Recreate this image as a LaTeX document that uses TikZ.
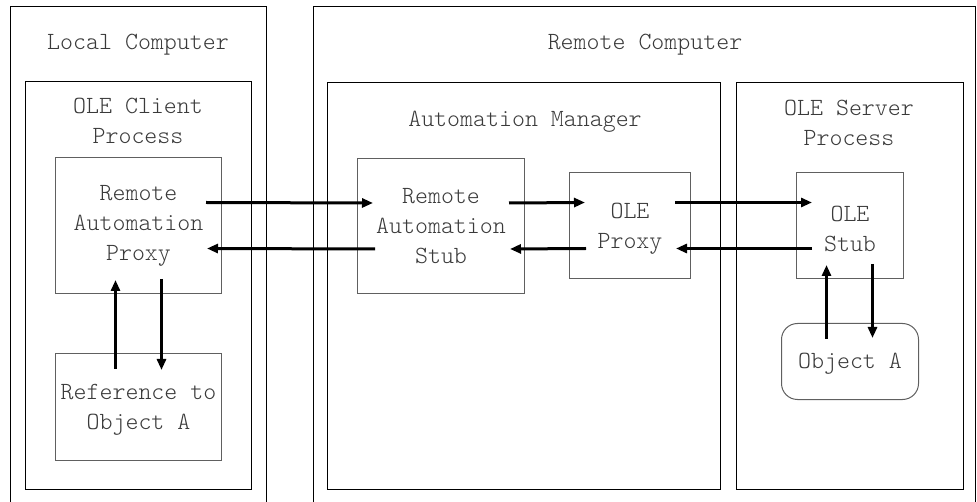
\documentclass[tikz,border=0pt]{standalone}
\usepackage{fontspec}
\setmonofont{Latin Modern Mono Light}
\usetikzlibrary{arrows.meta}
\definecolor{txt}{HTML}{3A3A3A}
\definecolor{boxline}{HTML}{606060}
\tikzset{
  container/.style={draw=black, line width=1.4pt, anchor=north west, inner sep=0pt, rectangle},
  part/.style={draw=boxline, line width=1pt, anchor=north west, inner sep=0pt, rectangle},
  caption/.style={text=txt, font=\ttfamily\fontsize{24.7}{30}\selectfont, align=center, inner sep=0pt},
  flow/.style={line width=3pt, -{Triangle[length=11pt,width=9pt]}},
}
\begin{document}
\begin{tikzpicture}[x=1pt,y=-1pt]
  \useasboundingbox (0,0) rectangle (977,502);
  \clip (0,0) rectangle (977,502);
  \fill[white] (0,0) rectangle (977,502);

  % machines
  \node[container, minimum width=256pt, minimum height=520pt] (local) at (10,6) {};
  \node[container, minimum width=662pt, minimum height=520pt] (remote) at (313,6) {};
  \node[caption] (localtitle) at (138,45) {Local Computer};
  \node[caption] (remotetitle) at (645,45) {Remote Computer};

  % processes
  \node[container, minimum width=226pt, minimum height=408pt] (client) at (25,81) {};
  \node[container, minimum width=393pt, minimum height=407pt] (manager) at (327,82) {};
  \node[container, minimum width=227pt, minimum height=407pt] (server) at (736,82) {};
  \node[caption] (clienttitle) at (138,121) {OLE Client\\Process};
  \node[caption] (managertitle) at (525,122) {Automation Manager};
  \node[caption] (servertitle) at (849,123) {OLE Server\\Process};

  % components
  \node[part, minimum width=166pt, minimum height=136pt] (rap) at (55,157) {};
  \node[caption] at (rap.center) {Remote\\Automation\\Proxy};
  \node[part, minimum width=166pt, minimum height=107pt] (ref) at (55,353) {};
  \node[caption] at ([yshift=-3pt]ref.center) {Reference to\\Object A};
  \node[part, minimum width=167pt, minimum height=135pt] (ras) at (357,158) {};
  \node[caption] at (ras.center) {Remote\\Automation\\Stub};
  \node[part, minimum width=121pt, minimum height=106pt] (olep) at (569,172) {};
  \node[caption] at ([yshift=-3pt]olep.center) {OLE\\Proxy};
  \node[part, minimum width=107pt, minimum height=106pt] (oles) at (796,172) {};
  \node[caption] at ([yshift=-3pt]oles.center) {OLE\\Stub};
  \node[part, rounded corners=16pt, minimum width=137pt, minimum height=76pt] (obj) at (781,323) {};
  \node[caption] at ([yshift=-2pt]obj.center) {Object A};

  % calls across the wire
  \draw[flow] ([xshift=-16pt,yshift=23pt]rap.east) -- ([xshift=16pt,yshift=23pt]ras.west);
  \draw[flow] ([xshift=18pt,yshift=-23pt]ras.west) -- ([xshift=-15pt,yshift=-23pt]rap.east);
  \draw[flow] ([xshift=-16pt,yshift=23pt]ras.east) -- ([xshift=16pt,yshift=23pt]olep.west);
  \draw[flow] ([xshift=17pt,yshift=-23pt]olep.west) -- ([xshift=-15pt,yshift=-23pt]ras.east);
  \draw[flow] ([xshift=-16pt,yshift=23pt]olep.east) -- ([xshift=16pt,yshift=23pt]oles.west);
  \draw[flow] ([xshift=16pt,yshift=-23pt]oles.west) -- ([xshift=-15pt,yshift=-23pt]olep.east);

  % local reference to the proxy
  \draw[flow] ([xshift=-23pt,yshift=-16pt]ref.north) -- ([xshift=-23pt,yshift=14pt]rap.south);
  \draw[flow] ([xshift=23pt,yshift=15pt]rap.south) -- ([xshift=23pt,yshift=-17pt]ref.north);

  % stub to the object
  \draw[flow] ([xshift=-23.5pt,yshift=-16pt]obj.north) -- ([xshift=-23.5pt,yshift=14pt]oles.south);
  \draw[flow] ([xshift=22.5pt,yshift=15pt]oles.south) -- ([xshift=22.5pt,yshift=-15pt]obj.north);
\end{tikzpicture}
\end{document}
